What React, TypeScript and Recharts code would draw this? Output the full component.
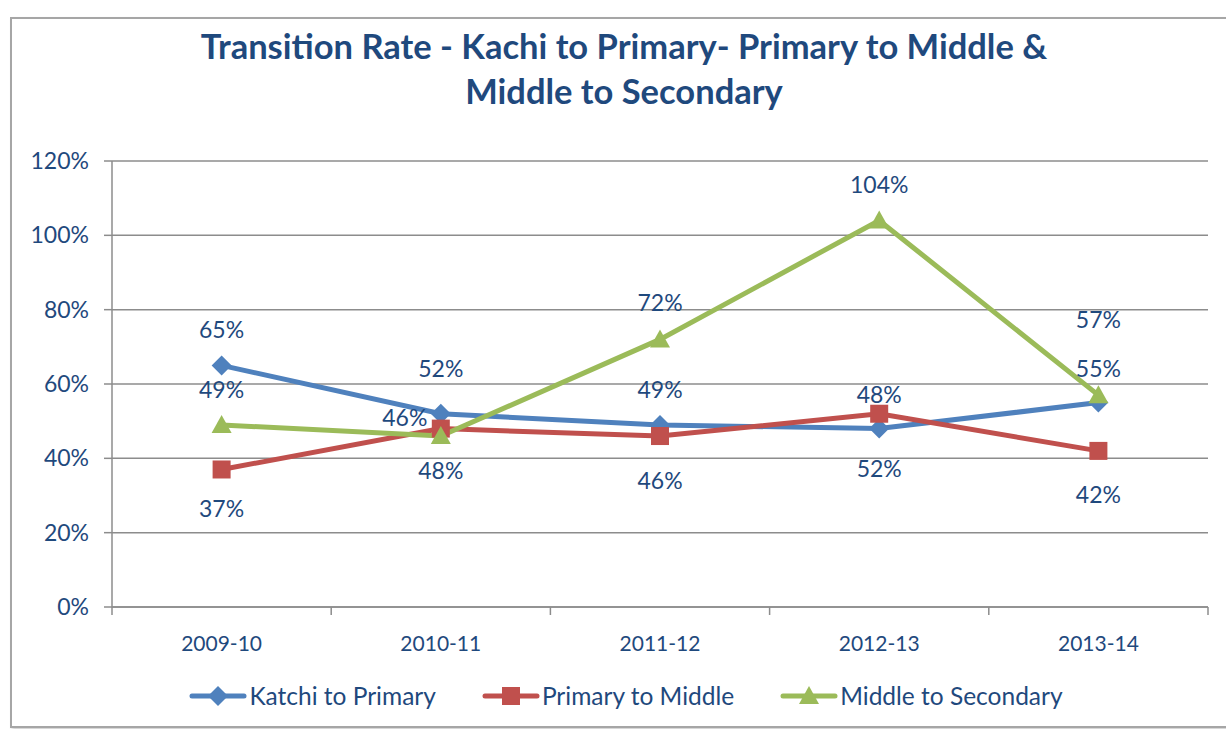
import React from "react";
import { LineChart, Line, XAxis, YAxis, CartesianGrid, Legend, LabelList } from "recharts";

const categories = ["2009-10", "2010-11", "2011-12", "2012-13", "2013-14"];
const katchiToPrimary = [0.65, 0.52, 0.49, 0.48, 0.55];
const primaryToMiddle = [0.37, 0.48, 0.46, 0.52, 0.42];
const middleToSecondary = [0.49, 0.46, 0.72, 1.04, 0.57];
const yTicks = [0, 0.2, 0.4, 0.6, 0.8, 1.0, 1.2];

const seriesNames = ["Katchi to Primary", "Primary to Middle", "Middle to Secondary"];
const COLORS = ["#4F81BD", "#C0504D", "#9BBB59"];
const TEXT = "#1F497D";
const GRID = "#8c8c8c";
const FONT = "Lato, 'Open Sans', sans-serif";
const HALF_BAND = 109.6;

// label placement nudges (layout only)
const nudgeK: [number, number][] = [[0, -36], [0, -46], [0, -36], [0, -35], [0, -35]];
const nudgeP: [number, number][] = [[0, 39], [0, 41], [0, 44], [0, 54], [0, 43]];
const nudgeM: [number, number][] = [[0, -36], [-36, -19], [0, -37], [0, -36], [0, -76]];

const data = categories.map((c, i) => ({
  cat: c,
  k: katchiToPrimary[i],
  p: primaryToMiddle[i],
  m: middleToSecondary[i],
}));

const diamondPath = (cx: number, cy: number, s: number) =>
  `M${cx},${cy - s}L${cx + s},${cy}L${cx},${cy + s}L${cx - s},${cy}Z`;
const trianglePath = (cx: number, cy: number, s: number) =>
  `M${cx},${cy - s}L${cx + s},${cy + s * 0.8}L${cx - s},${cy + s * 0.8}Z`;

const drawMarker = (kind: number, cx: number, cy: number, key?: any) => {
  if (kind === 0) return <path key={key} d={diamondPath(cx, cy, 10)} fill={COLORS[0]} />;
  if (kind === 1) return <rect key={key} x={cx - 9} y={cy - 9} width={18} height={18} fill={COLORS[1]} />;
  return <path key={key} d={trianglePath(cx, cy, 10)} fill={COLORS[2]} />;
};

const makeDot = (kind: number) => (props: any) => {
  const { cx, cy, index } = props;
  if (cx == null || cy == null) return <g key={index} />;
  return drawMarker(kind, cx, cy, index);
};

const makeLabel = (nudge: [number, number][]) => (props: any) => {
  const { x, y, value, index } = props;
  const [dx, dy] = nudge[index] || [0, 0];
  return (
    <text
      key={index}
      x={x + dx}
      y={y + dy}
      textAnchor="middle"
      dominantBaseline="central"
      fill={TEXT}
      fontSize={23}
      fontFamily={FONT}
    >
      {Math.round(value * 100)}%
    </text>
  );
};

const XTick = (props: any) => {
  const { x, y, payload, index, visibleTicksCount } = props;
  const axisY = y - 8;
  return (
    <g>
      <line x1={x - HALF_BAND} y1={axisY} x2={x - HALF_BAND} y2={axisY + 8} stroke={GRID} strokeWidth={1.5} />
      {index === visibleTicksCount - 1 && (
        <line x1={x + HALF_BAND} y1={axisY} x2={x + HALF_BAND} y2={axisY + 8} stroke={GRID} strokeWidth={1.5} />
      )}
      <text x={x} y={axisY + 35} textAnchor="middle" dominantBaseline="central" fill={TEXT} fontSize={21} fontFamily={FONT}>
        {payload.value}
      </text>
    </g>
  );
};

const LegendContent = () => {
  return (
    <div style={{ display: "flex", justifyContent: "center", alignItems: "center", gap: 46, paddingLeft: 44 }}>
      {seriesNames.map((n, i) => (
        <div key={n} style={{ display: "flex", alignItems: "center" }}>
          <svg width={58} height={24}>
            <line x1={3} y1={12} x2={55} y2={12} stroke={COLORS[i]} strokeWidth={5} strokeLinecap="round" />
            {drawMarker(i, 29, 12)}
          </svg>
          <span style={{ color: TEXT, fontFamily: FONT, fontSize: 24.5, marginLeft: 2 }}>{n}</span>
        </div>
      ))}
    </div>
  );
};

export default function App() {
  return (
    <div style={{ position: "relative", width: 1226, height: 729, background: "#fff" }}>
      <style>{`body{margin:0;}`}</style>
      <div
        style={{
          position: "absolute",
          left: 10,
          top: 17,
          width: 1230,
          height: 711,
          border: "2px solid #a6a6a6",
          boxShadow: "2px 2px 3px #d0d0d0",
          boxSizing: "border-box",
        }}
      />
      <div
        style={{
          position: "absolute",
          left: 0,
          top: 23,
          width: 1248,
          textAlign: "center",
          fontFamily: FONT,
          fontWeight: 700,
          fontSize: 34.5,
          lineHeight: "45px",
          color: TEXT,
        }}
      >
        Transition Rate - Kachi to Primary- Primary to Middle &amp;
        <br />
        Middle to Secondary
      </div>
      <div style={{ position: "absolute", left: 0, top: 0 }}>
        <LineChart width={1226} height={729} data={data} margin={{ top: 161, right: 18, left: 0, bottom: 22 }}>
          <CartesianGrid vertical={false} stroke={GRID} strokeWidth={1.5} />
          <XAxis
            dataKey="cat"
            height={60}
            stroke={GRID}
            strokeWidth={1.5}
            padding={{ left: HALF_BAND, right: HALF_BAND }}
            tick={<XTick />}
            interval={0}
            tickLine={false}
          />
          <YAxis
            domain={[0, 1.2]}
            ticks={yTicks}
            width={112}
            stroke={GRID}
            strokeWidth={1.5}
            tickSize={8}
            tickMargin={15}
            tickFormatter={(v: number) => `${Math.round(v * 100)}%`}
            tick={{ fill: TEXT, fontSize: 23, fontFamily: FONT }}
            interval={0}
          />
          <Legend verticalAlign="bottom" height={40} content={<LegendContent />} wrapperStyle={{ bottom: 8 }} />
          <Line
            dataKey="k"
            name={seriesNames[0]}
            stroke={COLORS[0]}
            strokeWidth={5}
            dot={makeDot(0)}
            activeDot={false}
            isAnimationActive={false}
          >
            <LabelList dataKey="k" content={makeLabel(nudgeK)} />
          </Line>
          <Line
            dataKey="p"
            name={seriesNames[1]}
            stroke={COLORS[1]}
            strokeWidth={5}
            dot={makeDot(1)}
            activeDot={false}
            isAnimationActive={false}
          >
            <LabelList dataKey="p" content={makeLabel(nudgeP)} />
          </Line>
          <Line
            dataKey="m"
            name={seriesNames[2]}
            stroke={COLORS[2]}
            strokeWidth={5}
            dot={makeDot(2)}
            activeDot={false}
            isAnimationActive={false}
          >
            <LabelList dataKey="m" content={makeLabel(nudgeM)} />
          </Line>
        </LineChart>
      </div>
    </div>
  );
}
